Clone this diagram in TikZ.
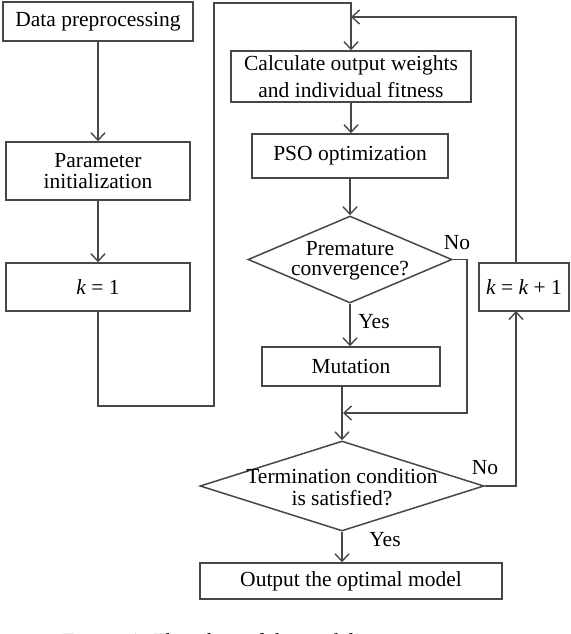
\documentclass[tikz,border=0pt]{standalone}
\usepackage{fontspec}
\setmainfont{Liberation Serif}
\usetikzlibrary{arrows.meta,shapes.geometric}
\definecolor{linegray}{HTML}{474747}
\tikzset{
  box/.style={draw=linegray, line width=1.5pt, rectangle, inner sep=0pt, align=center,
    font=\fontsize{21.5}{22}\selectfont},
  dia/.style={draw=linegray, line width=1.5pt, diamond, inner sep=0pt},
  diatext/.style={align=center, inner sep=0pt},
  conn/.style={draw=linegray, line width=1.5pt},
  arr/.style={conn, -{Straight Barb[length=7.5pt,width=14pt,line width=1.4pt]}},
  lbl/.style={inner sep=0pt, font=\fontsize{21.5}{22}\selectfont}
}
\begin{document}
\begin{tikzpicture}[x=1pt,y=-1pt]
\useasboundingbox (0,0) rectangle (570,634);
\clip (0,0) rectangle (570,634);
\fill[white] (0,0) rectangle (570,634);

% nodes
\node[box, minimum width=190, minimum height=39] (dp) at (98,21.5) {Data preprocessing};
\node[box, minimum width=184, minimum height=58, font=\fontsize{21.5}{21.7}\selectfont] (pi) at (98,171) {Parameter\\initialization};
\node[box, minimum width=184, minimum height=48] (k1) at (98,287) {\itshape k\upshape{} = 1};
\node[box, minimum width=240, minimum height=51, font=\fontsize{21.5}{26.7}\selectfont] (calc) at (351,76.5) {Calculate output weights\\and individual fitness};
\node[box, minimum width=196, minimum height=44] (pso) at (350,156) {PSO optimization};
\node[dia, minimum width=204, minimum height=87] (d1) at (350,259.5) {};
\node[diatext, font=\fontsize{21.5}{19.5}\selectfont] (d1t) at (350,261) {Premature\\convergence?};
\node[box, minimum width=178, minimum height=39] (mut) at (351,366.5) {Mutation};
\node[dia, minimum width=284, minimum height=90] (d2) at (342,486) {};
\node[diatext, font=\fontsize{21.5}{21.7}\selectfont] (d2t) at (342,487) {Termination condition\\is satisfied?};
\node[box, minimum width=302, minimum height=36] (out) at (351,581) {Output the optimal model};
\node[box, minimum width=90, minimum height=48] (kk) at (524,287) {\itshape k\upshape{} = \itshape k\upshape{} + 1};

% free corners
\coordinate (a1) at (214,406);
\coordinate (a2) at (214,3);
\coordinate (b1) at (467,413);
\coordinate (c1) at (516,486);
\coordinate (c2) at (516,17);
\coordinate (kkb) at (516,311);
\coordinate (kkt) at (516,263);
\coordinate (m1) at (343,413);

% connectors
\draw[arr] (dp.south) -- (dp.south |- pi.north);
\draw[arr] (pi.south) -- (pi.south |- k1.north);
\draw[arr] (k1.south) |- (a1) -- (a2) -| (calc.north);
\draw[arr] (calc.south) -- (calc.south |- pso.north);
\draw[arr] (pso.south) -- (d1.north);
\draw[arr] (d1.south) -- (d1.south |- mut.north);
\draw[arr] (d1.east) -| (b1) -- (m1);
\draw[arr] (mut.south -| d2.north) -- (d2.north);
\draw[arr] (d2.east) -- (c1) -- (kkb);
\draw[arr] (kkt) -- (c2) -- (c2 -| calc.north);
\draw[arr] (d2.south) -- (d2.south |- out.north);

% labels
\node[lbl] (no1) at (457,243) {No};
\node[lbl] (yes1) at (374,322) {Yes};
\node[lbl] (no2) at (485,468) {No};
\node[lbl] (yes2) at (385,540) {Yes};

% caption (cut off at the bottom edge, as in the reference)
\node[anchor=base west, inner sep=0pt, font=\fontsize{21.5}{22}\selectfont] (cap) at (63,648)
  {F{\fontsize{16}{17}\selectfont IGURE} 1: Flowchart of the modeling};
\end{tikzpicture}
\end{document}
